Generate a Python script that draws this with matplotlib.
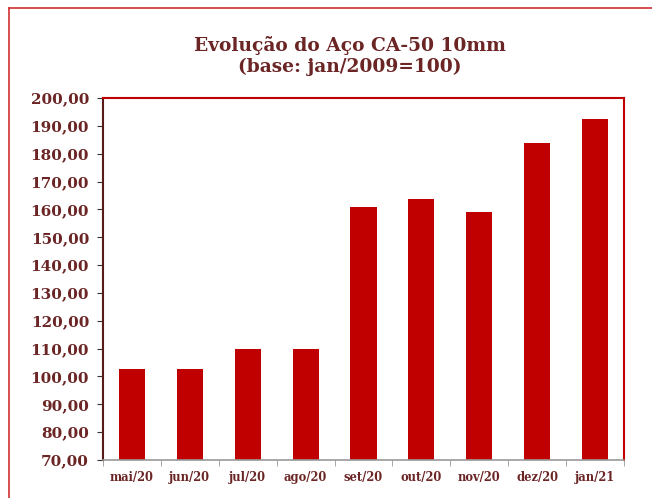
import matplotlib
matplotlib.use("Agg")
import matplotlib.pyplot as plt
from matplotlib.lines import Line2D

categories = ["mai/20", "jun/20", "jul/20", "ago/20", "set/20", "out/20", "nov/20", "dez/20", "jan/21"]
values = [102.6, 102.6, 109.8, 109.8, 160.9, 163.7, 159.1, 183.9, 192.4]
yticks = list(range(70, 201, 10))
title = "Evolução do Aço CA-50 10mm\n(base: jan/2009=100)"

brown = "#6B2525"
red = "#C00000"

fig = plt.figure(figsize=(6.52, 4.98), dpi=100)
W, H = 652, 498
ax = fig.add_axes([103 / W, 1 - 460 / H, (624 - 103) / W, (460 - 98) / H])

x = list(range(len(categories)))
ax.bar(x, values, width=0.45, color=red, zorder=2)
ax.set_xlim(-0.5, len(categories) - 0.5)
ax.set_ylim(70, 200)
ax.set_yticks(yticks)
ax.set_yticklabels([f"{v},00" for v in yticks], fontfamily="DejaVu Serif",
                   fontweight="heavy", fontsize=11, color=brown)
ax.set_xticks(x)
ax.set_xticklabels(categories, fontfamily="DejaVu Serif", fontweight="bold",
                   fontsize=8.3, color=brown)
ax.tick_params(axis="x", length=0, pad=8)
ax.set_xticks([i + 0.5 for i in range(-1, len(categories))], minor=True)
ax.tick_params(axis="x", which="minor", length=4, color="#999999")
ax.tick_params(axis="y", length=4, color="#333333", pad=6)

for side in ["top", "right"]:
    ax.spines[side].set_color(red)
    ax.spines[side].set_linewidth(1.5)
ax.spines["left"].set_color("#5a1a1a")
ax.spines["left"].set_linewidth(1.5)
ax.spines["bottom"].set_color("#999999")
ax.spines["bottom"].set_linewidth(1.2)

fig.text(350 / W, 1 - 56 / H, title, ha="center", va="center",
         fontfamily="DejaVu Serif", fontweight="heavy", fontsize=13.4,
         color=brown, linespacing=1.2)

# outer frame
fig.add_artist(Line2D([9 / W, 9 / W], [0, 1 - 8 / H], transform=fig.transFigure,
                      color="#D03030", linewidth=1.2))
fig.add_artist(Line2D([9 / W, 1], [1 - 8 / H, 1 - 8 / H], transform=fig.transFigure,
                      color="#D03030", linewidth=1.2))

fig.savefig("out.png", dpi=100, facecolor="white")
